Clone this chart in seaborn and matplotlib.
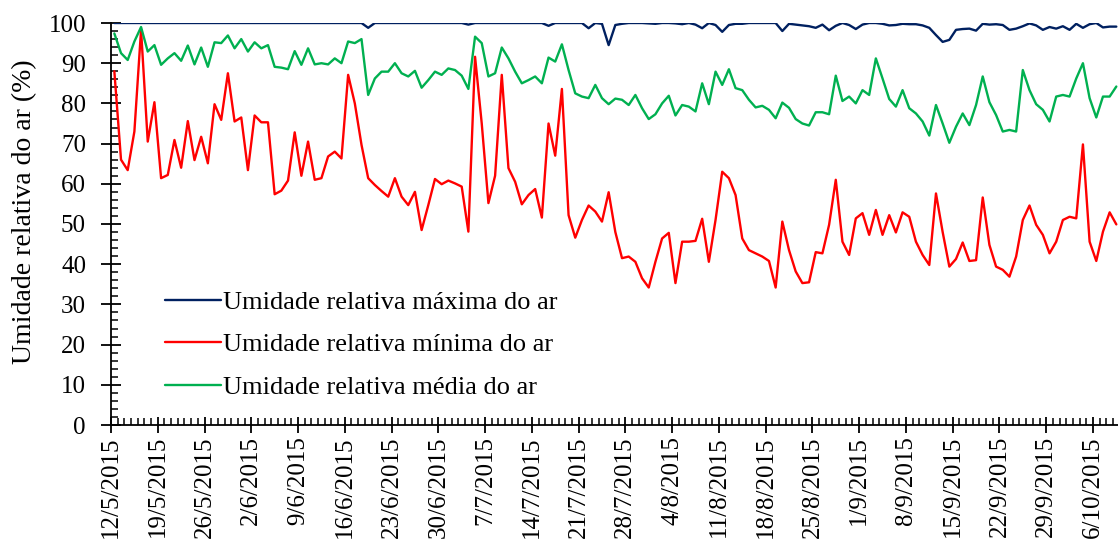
import numpy as np
import pandas as pd
import matplotlib
matplotlib.use('Agg')
import matplotlib.pyplot as plt
import seaborn as sns
from matplotlib.ticker import MultipleLocator, FixedLocator

# Daily series, 12/5/2015 to 9/10/2015
datas = pd.date_range('2015-05-12', '2015-10-09', freq='D')

umid_max = [
    100, 100, 100, 100, 100, 100, 100, 100, 100, 100,
    100, 100, 100, 100, 100, 100, 100, 100, 100, 100,
    100, 100, 100, 100, 100, 100, 100, 100, 100, 100,
    100, 100, 100, 100, 100, 100, 100, 100, 98.8, 100,
    100, 100, 100, 100, 100, 100, 100, 100, 100, 100,
    100, 100, 100, 99.6, 100, 100, 100, 100, 100, 100,
    100, 100, 100, 100, 100, 99.3, 100, 100, 100, 100,
    100, 98.7, 100, 99.8, 94.5, 99.5, 99.8, 100, 100, 100,
    99.9, 99.8, 100, 100, 99.9, 99.7, 100, 99.6, 98.7, 100,
    99.5, 97.8, 99.5, 99.8, 99.8, 100, 100, 100, 100, 100,
    98, 99.8, 99.6, 99.4, 99.2, 98.8, 99.6, 98.2, 99.3, 100,
    99.5, 98.5, 99.6, 100, 100, 99.8, 99.4, 99.5, 99.8, 99.7,
    99.7, 99.4, 98.8, 97, 95.3, 95.8, 98.3, 98.5, 98.6, 98.1,
    99.8, 99.6, 99.7, 99.5, 98.3, 98.6, 99.2, 99.9, 99.4, 98.3,
    99.0, 98.6, 99.2, 98.3, 99.8, 98.8, 99.7, 100, 98.9, 99.1,
    99.1,
]

umid_min = [
    88, 66, 63.4, 73, 98.3, 70.5, 80.3, 61.4, 62.2, 70.9,
    64, 75.6, 65.9, 71.7, 65.1, 79.8, 75.9, 87.5, 75.5, 76.5,
    63.4, 77, 75.3, 75.3, 57.4, 58.3, 60.8, 72.8, 62, 70.5,
    61, 61.4, 66.8, 68, 66.3, 87.1, 80, 69.7, 61.4, 59.7,
    58.2, 56.8, 61.4, 56.8, 54.7, 58, 48.5, 54.7, 61.2, 59.9,
    60.8, 60.1, 59.3, 48.1, 91.6, 75, 55.2, 62, 87.1, 63.9,
    60.5, 54.9, 57.2, 58.7, 51.6, 75, 67, 83.6, 52.2, 46.6,
    51, 54.6, 53.1, 50.6, 57.9, 48, 41.5, 41.9, 40.6, 36.5,
    34.2, 40.6, 46.4, 47.8, 35.3, 45.6, 45.6, 45.8, 51.3, 40.6,
    51, 63, 61.4, 57.2, 46.4, 43.5, 42.7, 41.9, 40.8, 34.2,
    50.6, 43.5, 38.2, 35.3, 35.5, 43, 42.7, 49.8, 61, 45.6,
    42.3, 51.4, 52.7, 47.3, 53.5, 47.3, 52.2, 47.9, 52.9, 51.8,
    45.6, 42.3, 39.8, 57.6, 48, 39.4, 41.3, 45.4, 40.8, 41,
    56.6, 44.8, 39.4, 38.6, 36.9, 41.9, 51, 54.6, 49.8, 47.3,
    42.7, 45.6, 51, 51.8, 51.4, 69.8, 45.6, 40.8, 48.1, 52.9,
    49.9,
]

umid_med = [
    97.4, 92.5, 90.8, 95.4, 99, 92.9, 94.5, 89.6, 91.2, 92.5,
    90.6, 94.4, 89.7, 93.9, 89.1, 95.2, 95, 96.9, 93.7, 96,
    92.9, 95.2, 93.7, 94.5, 89.1, 88.9, 88.5, 93, 89.6, 93.7,
    89.7, 90, 89.7, 91.2, 90, 95.4, 95, 96, 82.1, 86.2,
    87.9, 87.9, 90, 87.5, 86.7, 88.1, 83.9, 85.8, 87.9, 87.1,
    88.7, 88.3, 86.9, 83.6, 96.6, 95, 86.7, 87.5, 93.9, 91.2,
    87.9, 85, 85.8, 86.7, 85, 91.4, 90.4, 94.7, 88.3, 82.5,
    81.7, 81.3, 84.6, 81.3, 79.8, 81.2, 80.9, 79.6, 82.1, 78.8,
    76.1, 77.3, 80, 81.9, 77, 79.6, 79.2, 78, 85, 79.8,
    87.9, 84.6, 88.5, 83.8, 83.3, 80.9, 79, 79.4, 78.4, 76.3,
    80.2, 78.9, 76.1, 75, 74.5, 77.8, 77.8, 77.3, 86.9, 80.6,
    81.7, 80, 83.3, 82.1, 91.2, 86.2, 81.1, 79.2, 83.3, 78.8,
    77.5, 75.5, 72, 79.6, 75, 70.2, 74.2, 77.5, 74.6, 79.6,
    86.7, 80.3, 77.1, 73, 73.4, 73, 88.3, 83.3, 79.8, 78.4,
    75.5, 81.7, 82.1, 81.7, 86.2, 90, 81.3, 76.5, 81.7, 81.7,
    84.2,
]

series = ['Umidade relativa máxima do ar',
          'Umidade relativa mínima do ar',
          'Umidade relativa média do ar']
cores = ['#002060', '#FF0000', '#00B050']

df = pd.DataFrame({
    'dia': np.arange(len(datas)) + 0.5,  # points sit between the date ticks
    series[0]: umid_max,
    series[1]: umid_min,
    series[2]: umid_med,
})
longo = df.melt(id_vars='dia', var_name='serie', value_name='umidade')

sns.set_style('ticks')
plt.rcParams['font.family'] = ['Liberation Serif', 'DejaVu Serif']
for k in ['text.color', 'axes.labelcolor', 'xtick.color', 'ytick.color']:
    plt.rcParams[k] = 'black'

fig = plt.figure(figsize=(11.18, 5.47), dpi=100)
ax = fig.add_axes([111 / 1118, 122 / 547, 1007 / 1118, 402 / 547])

sns.lineplot(data=longo, x='dia', y='umidade', hue='serie', hue_order=series,
             palette=cores, linewidth=1.7, errorbar=None, ax=ax)

# x axis: weekly labelled ticks, daily minor ticks
semanas = pd.date_range('2015-05-12', '2015-10-06', freq='7D')
pos = [(d - datas[0]).days for d in semanas]
rotulos = [f'{d.day}/{d.month}/{d.year}' for d in semanas]
ax.xaxis.set_major_locator(FixedLocator(pos))
ax.set_xticklabels(rotulos, rotation=90, fontsize=18)
ax.xaxis.set_minor_locator(MultipleLocator(1))
ax.set_xlim(0, 150.75)

ax.set_ylim(0, 100)
ax.yaxis.set_major_locator(MultipleLocator(10))
ax.yaxis.set_minor_locator(MultipleLocator(2))
ax.tick_params(axis='y', labelsize=18)

ax.tick_params(axis='x', which='major', direction='inout', length=12, width=1.3, pad=2)
ax.tick_params(axis='x', which='minor', direction='in', length=5, width=1.1)
ax.tick_params(axis='y', which='major', direction='inout', length=14, width=1.3, pad=11)
ax.tick_params(axis='y', which='minor', direction='in', length=5, width=1.1)

for s in ['top', 'right']:
    ax.spines[s].set_visible(False)
for s in ['left', 'bottom']:
    ax.spines[s].set_linewidth(1.3)
    ax.spines[s].set_color('black')

ax.set_xlabel('')
ax.set_ylabel('Umidade relativa do ar (%)', fontsize=20)
ax.yaxis.set_label_coords(-0.0735, 0.53)

handles, labels = ax.get_legend_handles_labels()
ax.legend(handles, labels, loc='upper left', bbox_to_anchor=(0.054, 0.335),
          frameon=False, fontsize=19, handlelength=2.1, handletextpad=0.1,
          labelspacing=0.72, borderpad=0, borderaxespad=0)

fig.savefig('out.png', dpi=100)
